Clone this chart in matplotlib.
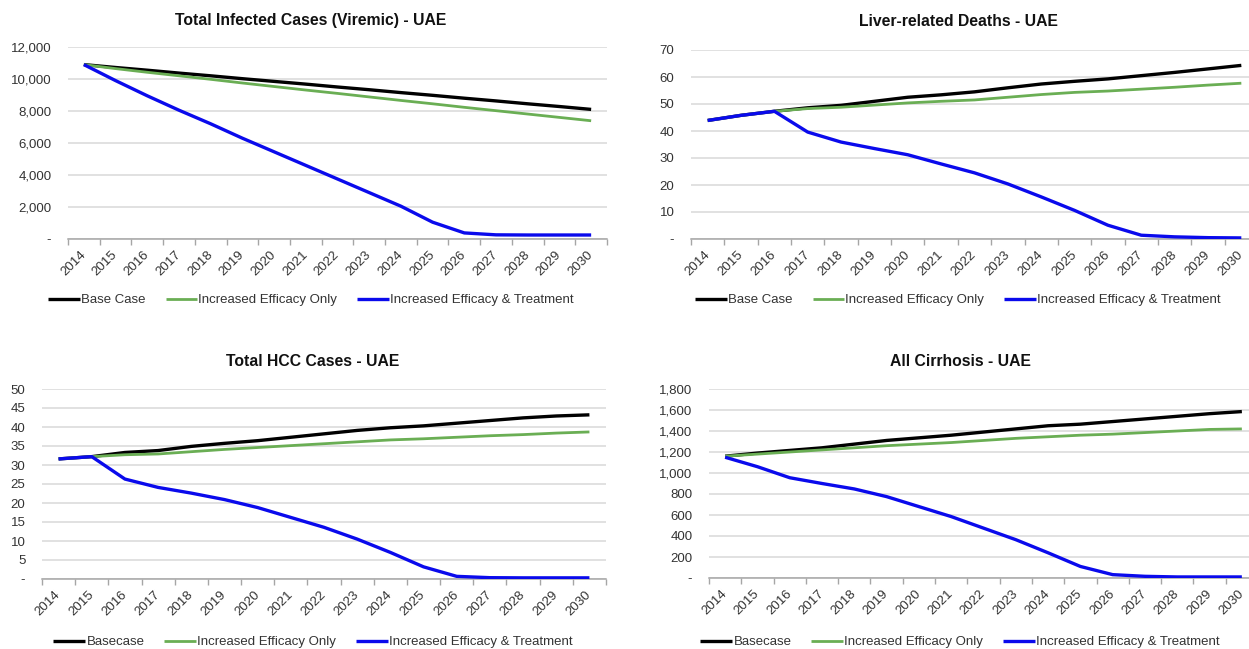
import matplotlib
matplotlib.use("Agg")
import matplotlib.pyplot as plt
from matplotlib.ticker import FuncFormatter, FixedLocator

#%% --- Data ---

years = [str(y) for y in range(2014, 2031)]

# Total infected cases (viremic)
viremic_base = [10900, 10720, 10550, 10370, 10200, 10020, 9850, 9680, 9500,
                9330, 9150, 8980, 8800, 8630, 8450, 8280, 8100]
viremic_eff = [10900, 10650, 10420, 10200, 9980, 9750, 9530, 9310, 9100,
               8880, 8660, 8450, 8230, 8020, 7810, 7600, 7390]
viremic_treat = [10900, 9900, 8950, 8050, 7200, 6300, 5450, 4600, 3750,
                 2900, 2050, 1050, 380, 260, 250, 250, 250]

# Liver-related deaths
deaths_base = [43.9, 45.8, 47.3, 48.6, 49.5, 51.0, 52.5, 53.4, 54.5,
               56.0, 57.4, 58.4, 59.3, 60.5, 61.7, 63.0, 64.3]
deaths_eff = [43.9, 45.8, 47.3, 48.3, 48.8, 49.6, 50.4, 51.0, 51.5,
              52.5, 53.5, 54.3, 54.8, 55.5, 56.2, 57.0, 57.7]
deaths_treat = [43.9, 45.8, 47.3, 39.6, 35.9, 33.5, 31.2, 27.8, 24.5,
                20.4, 15.6, 10.6, 5.1, 1.4, 0.8, 0.5, 0.4]

# Total HCC cases
hcc_base = [31.6, 32.2, 33.3, 33.8, 34.9, 35.7, 36.4, 37.3, 38.2,
            39.1, 39.8, 40.3, 41.0, 41.7, 42.4, 42.9, 43.2]
hcc_eff = [31.6, 32.2, 32.7, 32.9, 33.5, 34.1, 34.6, 35.1, 35.6,
           36.1, 36.6, 36.9, 37.3, 37.7, 38.0, 38.4, 38.7]
hcc_treat = [31.6, 32.2, 26.3, 24.1, 22.6, 20.9, 18.8, 16.2, 13.6,
             10.5, 7.0, 3.2, 0.7, 0.35, 0.3, 0.3, 0.3]

# All cirrhosis
cirr_base = [1160, 1190, 1215, 1240, 1275, 1310, 1335, 1360, 1390,
             1420, 1450, 1465, 1490, 1515, 1540, 1565, 1585]
cirr_eff = [1160, 1180, 1200, 1220, 1240, 1260, 1275, 1290, 1310,
            1330, 1345, 1360, 1370, 1385, 1400, 1415, 1420]
cirr_treat = [1150, 1060, 955, 900, 848, 775, 680, 585, 475,
              365, 240, 110, 32, 16, 10, 10, 10]

#%% --- Layout helpers (pixel boxes of the original chart) ---

W, H = 1249, 649
plt.rcParams["font.family"] = ["Liberation Sans", "DejaVu Sans"]

BLACK = "#000000"
GREEN = "#6aae54"
BLUE = "#0a0aec"
TXT = "#333333"


def px_axes(fig, left, right, top, bottom):
    return fig.add_axes([left / W, 1 - bottom / H,
                         (right - left) / W, (bottom - top) / H])


def fmt(v, pos):
    if abs(v) < 1e-9:
        return "-"
    return "{:,.0f}".format(v)


def draw_panel(ax, base, eff, treat, ymax, ystep, labels):
    x = list(range(len(years)))
    ax.plot(x, base, color=BLACK, lw=2.4, label=labels[0],
            solid_capstyle="butt", zorder=3)
    ax.plot(x, eff, color=GREEN, lw=2.0, label=labels[1],
            solid_capstyle="butt", zorder=3)
    ax.plot(x, treat, color=BLUE, lw=2.4, label=labels[2],
            solid_capstyle="butt", zorder=4)

    ax.set_xlim(-0.5, len(years) - 0.5)
    ax.set_ylim(0, ymax)

    # y axis
    ticks = [i * ystep for i in range(int(round(ymax / ystep)) + 1)]
    ax.yaxis.set_major_locator(FixedLocator(ticks))
    ax.yaxis.set_major_formatter(FuncFormatter(fmt))
    ax.tick_params(axis="y", length=0, pad=12, labelsize=9.5,
                   labelcolor=TXT)
    ax.grid(axis="y", color="#d9d9d9", lw=1.1, zorder=0)
    ax.set_axisbelow(True)

    # x axis: labels at category centres, tick marks between categories
    ax.set_xticks(x)
    ax.set_xticklabels(years, rotation=45, ha="right", va="center",
                       rotation_mode="anchor", fontsize=9.5, color=TXT)
    ax.set_xticks([i - 0.5 for i in range(len(years) + 1)], minor=True)
    ax.tick_params(axis="x", which="major", length=0, pad=10)
    ax.tick_params(axis="x", which="minor", length=4, width=1,
                   color="#a6a6a6", direction="out")

    for side in ["top", "right", "left"]:
        ax.spines[side].set_visible(False)
    ax.spines["bottom"].set_color("#a6a6a6")
    ax.spines["bottom"].set_linewidth(1.1)


fig = plt.figure(figsize=(W / 100, H / 100), dpi=100)

lab_a = ["Base Case", "Increased Efficacy Only",
         "Increased Efficacy & Treatment"]
lab_b = ["Basecase", "Increased Efficacy Only",
         "Increased Efficacy & Treatment"]

panels = [
    # box, data, ymax, step, labels, title, title centre, title y, legend y
    ((68, 607, 47, 239), (viremic_base, viremic_eff, viremic_treat), 12000,
     2000, lab_a, "Total Infected Cases (Viremic) - UAE", 311, 21, 300),
    ((691, 1258, 50, 239), (deaths_base, deaths_eff, deaths_treat), 70,
     10, lab_a, "Liver-related Deaths - UAE", 958, 21, 300),
    ((42, 606, 389, 579), (hcc_base, hcc_eff, hcc_treat), 50,
     5, lab_b, "Total HCC Cases - UAE", 313, 361, 642),
    ((709, 1258, 389, 578), (cirr_base, cirr_eff, cirr_treat), 1800,
     200, lab_b, "All Cirrhosis - UAE", 960, 361, 642),
]

for box, data, ymax, step, labels, title, tx, ty, ly in panels:
    ax = px_axes(fig, *box)
    draw_panel(ax, *data, ymax, step, labels)
    fig.text(tx / W, 1 - ty / H, title, ha="center", va="center",
             fontsize=11.3, fontweight="bold", color="#111111")
    ax.legend(loc="center", bbox_to_anchor=(tx / W, 1 - ly / H),
              bbox_transform=fig.transFigure, ncol=3, frameon=False,
              fontsize=9.5, handlelength=2.4, handletextpad=0.1,
              columnspacing=1.5, labelcolor=TXT, borderaxespad=0,
              borderpad=0)

fig.savefig("out.png", dpi=100)
